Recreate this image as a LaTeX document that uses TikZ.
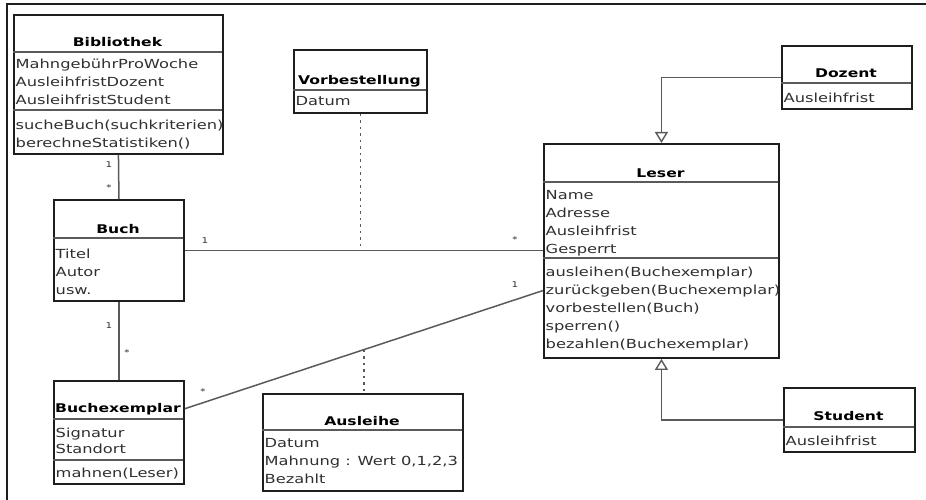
\documentclass[tikz,border=0pt]{standalone}
\usepackage{fontspec}
\newfontfamily\umlfont[FakeStretch=1.3]{DejaVu Sans}
\usepackage{xcolor}
\usepackage{tikz}
\usetikzlibrary{arrows.meta}
\definecolor{umlline}{HTML}{1E1E1E}
\definecolor{umlgray}{HTML}{5A5A5A}
\definecolor{umltext}{HTML}{303030}

\begin{document}
\begin{tikzpicture}[x=1pt, y=-1pt, line width=1.4pt,
    cls/.style={draw=umlline, line width=1.9pt, fill=white, anchor=north west,
                inner sep=0pt},
    ttl/.style={anchor=base, inner sep=0pt, text=black,
                font=\umlfont\fontsize{12}{14}\selectfont\bfseries},
    attr/.style={anchor=base west, inner sep=0pt, text=umltext,
                 font=\umlfont\fontsize{12.5}{18}\selectfont},
    sep/.style={draw=umlgray, line width=1.2pt},
    assoc/.style={draw=umlgray, line width=1.5pt},
    dep/.style={draw=umlgray, line width=1.5pt, dash pattern=on 2.5pt off 4pt},
    gen/.style={draw=umlgray, line width=1.4pt,
                -{Triangle[open, length=11pt, width=13pt]}},
    mult/.style={inner sep=0pt, text=umltext,
                 font=\umlfont\fontsize{8}{9}\selectfont}]
  \useasboundingbox (0,0) rectangle (926,500);
  % frame of the screenshot
  \draw[umlline, line width=2pt] (7,500) -- (7,4) -- (926,4);
  % Bibliothek
  \node[cls, minimum width=209pt, minimum height=139pt] (bib) at (13,14) {};
  \node[ttl] (bib-t) at (117.5,47) {Bibliothek};
  \draw[sep] (13,52) -- (222,52);
  \foreach \txt [count=\i] in {MahngebührProWoche, AusleihfristDozent,
                               AusleihfristStudent}
    \node[attr] (bib-a\i) at (15,51+18*\i) {\txt};
  \draw[sep] (13,110) -- (222,110);
  \foreach \txt [count=\i] in {sucheBuch(suchkriterien), berechneStatistiken()}
    \node[attr] (bib-m\i) at (15,112+17.5*\i) {\txt};
  % Vorbestellung
  \node[cls, minimum width=133pt, minimum height=63pt] (vorb) at (293,49) {};
  \node[ttl] (vorb-t) at (359.5,85) {Vorbestellung};
  \draw[sep] (293,90) -- (426,90);
  \node[attr] (vorb-a1) at (295,106) {Datum};
  % Dozent
  \node[cls, minimum width=130pt, minimum height=63pt] (doz) at (781,45) {};
  \node[ttl] (doz-t) at (846,78) {Dozent};
  \draw[sep] (781,83) -- (911,83);
  \node[attr] (doz-a1) at (783,103) {Ausleihfrist};
  % Leser
  \node[cls, minimum width=235pt, minimum height=214pt] (leser) at (543,143) {};
  \node[ttl] (leser-t) at (660.5,177) {Leser};
  \draw[sep] (543,182) -- (778,182);
  \foreach \txt [count=\i] in {Name, Adresse, Ausleihfrist, Gesperrt}
    \node[attr] (leser-a\i) at (545,181+18*\i) {\txt};
  \draw[sep] (543,258) -- (778,258);
  \foreach \txt [count=\i] in {ausleihen(Buchexemplar), zurückgeben(Buchexemplar),
                               vorbestellen(Buch), sperren(), bezahlen(Buchexemplar)}
    \node[attr] (leser-m\i) at (545,258+18*\i) {\txt};
  % Buch
  \node[cls, minimum width=130pt, minimum height=101pt] (buch) at (53,199) {};
  \node[ttl] (buch-t) at (118,233) {Buch};
  \draw[sep] (53,238) -- (183,238);
  \foreach \txt [count=\i] in {Titel, Autor, usw.}
    \node[attr] (buch-a\i) at (55,240+18*\i) {\txt};
  % Buchexemplar
  \node[cls, minimum width=130pt, minimum height=103pt] (bex) at (53,380) {};
  \node[ttl] (bex-t) at (118,412) {Buchexemplar};
  \draw[sep] (53,419) -- (183,419);
  \foreach \txt [count=\i] in {Signatur, Standort}
    \node[attr] (bex-a\i) at (55,421+16*\i) {\txt};
  \draw[sep] (53,460) -- (183,460);
  \node[attr] (bex-m1) at (55,477) {mahnen(Leser)};
  % Ausleihe
  \node[cls, minimum width=200pt, minimum height=97pt] (ausl) at (262,393) {};
  \node[ttl] (ausl-t) at (362,425) {Ausleihe};
  \draw[sep] (262,430) -- (462,430);
  \foreach \txt [count=\i] in {Datum, {Mahnung : Wert 0,1,2,3}, Bezahlt}
    \node[attr] (ausl-a\i) at (264,429+18*\i) {\txt};
  % Student
  \node[cls, minimum width=131pt, minimum height=64pt] (stud) at (783,387) {};
  \node[ttl] (stud-t) at (848.5,420) {Student};
  \draw[sep] (783,427) -- (914,427);
  \node[attr] (stud-a1) at (785,445) {Ausleihfrist};
  % associations
  \draw[assoc] (bib.south) -- (buch.north);
  \node[mult] (m-bib) at (109,165) {1};
  \node[mult] (m-buch1) at (109,188) {*};
  \draw[assoc] (buch.east) -- (buch.east -| leser.west);
  \node[mult] (m-buch2) at (205,241) {1};
  \node[mult] (m-leser1) at (515,240) {*};
  \draw[assoc] (buch.south) -- (bex.north);
  \node[mult] (m-buch3) at (109,326) {1};
  \node[mult] (m-bex1) at (127,353) {*};
  \draw[assoc] (bex.east |- bex-t.center) -- coordinate[pos=0.5] (lnk)
    (leser.west |- leser-m2.center);
  \node[mult] (m-bex2) at (203,392) {*};
  \node[mult] (m-leser2) at (515,285) {1};
  % association classes
  \draw[dep] (vorb.south) -- (vorb.south |- buch.east);
  \draw[dep] (lnk) -- (lnk |- ausl.north);
  % generalisations
  \draw[gen] (doz.west) -| (leser.north);
  \draw[gen] (stud.west) -| (leser.south);
\end{tikzpicture}
\end{document}
